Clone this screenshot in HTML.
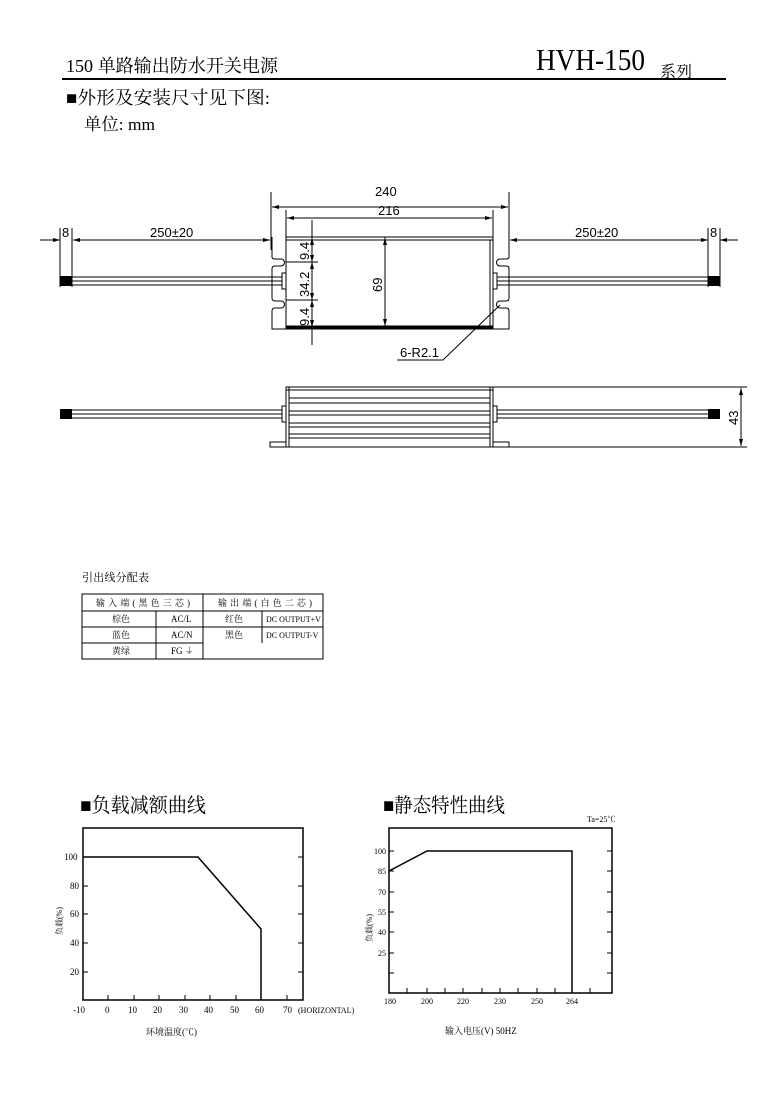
<!DOCTYPE html>
<html><head><meta charset="utf-8"><style>
html,body{margin:0;padding:0;background:#fff;}
svg{display:block}
text{font-family:"Liberation Serif","Noto Serif CJK SC","Noto Sans CJK SC",serif;fill:#000}
.s{font-family:"Liberation Sans","Noto Sans CJK SC",sans-serif}
</style></head><body>
<svg width="778" height="1101" viewBox="0 0 778 1101" xmlns="http://www.w3.org/2000/svg">
<!-- header -->
<text x="66" y="72" font-size="18" textLength="212" lengthAdjust="spacingAndGlyphs">150 单路输出防水开关电源</text>
<text x="536" y="70" font-size="31" textLength="109" lengthAdjust="spacingAndGlyphs">HVH-150</text>
<text x="660" y="77" font-size="16">系列</text>
<line x1="62" y1="79" x2="726" y2="79" stroke="#000" stroke-width="2"/>
<text x="66" y="104" font-size="18" textLength="204" lengthAdjust="spacingAndGlyphs">■外形及安装尺寸见下图:</text>
<text x="84" y="130" font-size="17" textLength="71" lengthAdjust="spacingAndGlyphs">单位: mm</text>

<g stroke="#000" fill="none" stroke-width="1">
<path d="M272 237 V257 Q272 259 275 259 H281 A3 3 0 0 1 281 266 H275 Q272 266 272 269 V298 Q272 301 275 301 H281 A3 3 0 0 1 281 308 H275 Q272 308 272 311 V329 H286"/>
<path d="M509 237 V257 Q509 259 506 259 H500 A3 3 0 0 0 500 266 H506 Q509 266 509 269 V298 Q509 301 506 301 H500 A3 3 0 0 0 500 308 H506 Q509 308 509 311 V329 H493"/>
<rect x="286" y="237" width="207" height="92"/>
<line x1="286" y1="240" x2="493" y2="240"/>
<line x1="286" y1="327" x2="493" y2="327" stroke-width="3"/>
<line x1="490" y1="240" x2="490" y2="327"/>
<rect x="282" y="273" width="4" height="16"/>
<rect x="493" y="273" width="4" height="16"/>
<line x1="60" y1="277" x2="282" y2="277"/><line x1="60" y1="281" x2="282" y2="281"/><line x1="60" y1="285" x2="282" y2="285"/>
<line x1="497" y1="277" x2="720" y2="277"/><line x1="497" y1="281" x2="720" y2="281"/><line x1="497" y1="285" x2="720" y2="285"/>
<line x1="271" y1="192" x2="271" y2="250"/><line x1="509" y1="192" x2="509" y2="250"/>
<line x1="286" y1="210" x2="286" y2="237"/><line x1="493" y1="210" x2="493" y2="237"/>
<line x1="272" y1="207" x2="508" y2="207"/>
<line x1="287" y1="218" x2="492" y2="218"/>
<line x1="40" y1="240" x2="60" y2="240"/><line x1="73" y1="240" x2="270" y2="240"/>
<line x1="510" y1="240" x2="708" y2="240"/><line x1="720" y1="240" x2="738" y2="240"/>
<line x1="60" y1="228" x2="60" y2="287"/><line x1="72" y1="228" x2="72" y2="287"/>
<line x1="708" y1="228" x2="708" y2="287"/><line x1="720" y1="228" x2="720" y2="287"/>
<line x1="312" y1="220" x2="312" y2="345"/>
<line x1="286" y1="262" x2="318" y2="262"/><line x1="286" y1="300" x2="318" y2="300"/>
<line x1="385" y1="237" x2="385" y2="327"/>
<path d="M500 305 L443 360 H397"/>
<rect x="286" y="387" width="207" height="60"/>
<line x1="289" y1="387" x2="289" y2="447"/><line x1="490" y1="387" x2="490" y2="447"/>
<line x1="286" y1="390" x2="493" y2="390"/>
<line x1="289" y1="398" x2="490" y2="398"/><line x1="289" y1="403" x2="490" y2="403"/>
<line x1="289" y1="411" x2="490" y2="411"/><line x1="289" y1="415" x2="490" y2="415"/>
<line x1="289" y1="423" x2="490" y2="423"/><line x1="289" y1="427" x2="490" y2="427"/>
<line x1="289" y1="434" x2="490" y2="434"/><line x1="289" y1="438" x2="490" y2="438"/>
<rect x="270" y="442" width="16" height="5"/><rect x="493" y="442" width="16" height="5"/>
<rect x="282" y="406" width="4" height="16"/><rect x="493" y="406" width="4" height="16"/>
<line x1="60" y1="410" x2="282" y2="410"/><line x1="60" y1="414" x2="282" y2="414"/><line x1="60" y1="418" x2="282" y2="418"/>
<line x1="497" y1="410" x2="720" y2="410"/><line x1="497" y1="414" x2="720" y2="414"/><line x1="497" y1="418" x2="720" y2="418"/>
<line x1="493" y1="387" x2="747" y2="387"/><line x1="509" y1="447" x2="747" y2="447"/>
<line x1="741" y1="388" x2="741" y2="446"/>
</g>
<g fill="#000">
<rect x="60" y="276" width="12" height="10"/><rect x="708" y="276" width="12" height="10"/>
<rect x="60" y="409" width="12" height="10"/><rect x="708" y="409" width="12" height="10"/>
<path d="M272 207 l7 -2 v4z"/><path d="M508 207 l-7 -2 v4z"/>
<path d="M287 218 l7 -2 v4z"/><path d="M492 218 l-7 -2 v4z"/>
<path d="M60 240 l-7 -2 v4z"/><path d="M73 240 l7 -2 v4z"/><path d="M270 240 l-7 -2 v4z"/>
<path d="M510 240 l7 -2 v4z"/><path d="M708 240 l-7 -2 v4z"/><path d="M720 240 l7 -2 v4z"/>
<path d="M385 238 l-2 7 h4z"/><path d="M385 326 l-2 -7 h4z"/>
<path d="M312 238 l-2 7 h4z"/><path d="M312 262 l-2 -7 h4z"/><path d="M312 262 l-2 7 h4z"/><path d="M312 300 l-2 -7 h4z"/><path d="M312 300 l-2 7 h4z"/><path d="M312 327 l-2 -7 h4z"/>
<path d="M741 388 l-2 7 h4z"/><path d="M741 446 l-2 -7 h4z"/>
</g>
<g class="s" font-size="13">
<text class="s" x="375" y="196">240</text>
<text class="s" x="378" y="215">216</text>
<text class="s" x="150" y="237">250±20</text>
<text class="s" x="575" y="237">250±20</text>
<text class="s" x="62" y="237">8</text>
<text class="s" x="710" y="237">8</text>
<text class="s" x="400" y="357">6-R2.1</text>
<text class="s" transform="translate(309 260) rotate(-90)">9.4</text>
<text class="s" transform="translate(309 297) rotate(-90)">34.2</text>
<text class="s" transform="translate(309 326) rotate(-90)">9.4</text>
<text class="s" transform="translate(382 292) rotate(-90)">69</text>
<text class="s" transform="translate(738 425) rotate(-90)">43</text>
</g>

<text x="82" y="581" font-size="11" textLength="67">引出线分配表</text>
<g stroke="#000" fill="none" stroke-width="1">
<rect x="82" y="594" width="241" height="65"/>
<line x1="82" y1="611" x2="323" y2="611"/>
<line x1="82" y1="627" x2="323" y2="627"/>
<line x1="82" y1="643" x2="203" y2="643"/>
<line x1="203" y1="594" x2="203" y2="659"/>
<line x1="156" y1="611" x2="156" y2="659"/>
<line x1="262" y1="611" x2="262" y2="643"/>
</g>
<g font-size="9">
<text x="96" y="606" textLength="94">输入端(黑色三芯)</text>
<text x="218" y="606" textLength="94">输出端(白色二芯)</text>
<text x="112" y="622">棕色</text><text x="171" y="622">AC/L</text><text x="225" y="622">红色</text><text x="266" y="622" font-size="8">DC OUTPUT+V</text>
<text x="112" y="638">蓝色</text><text x="171" y="638">AC/N</text><text x="225" y="638">黑色</text><text x="266" y="638" font-size="8">DC OUTPUT-V</text>
<text x="112" y="654">黄绿</text><text x="171" y="654">FG ⏚</text>
</g>

<text x="80" y="812" font-size="20" textLength="126" lengthAdjust="spacingAndGlyphs">■负载减额曲线</text>
<g stroke="#000" fill="none">
<rect x="83" y="828" width="220" height="172" stroke-width="1.5"/>
<path d="M83 857 H198 L261 929 V1000" stroke-width="1.5"/>
<path d="M83 857 h5 M83 886 h5 M83 914 h5 M83 943 h5 M83 972 h5 M303 857 h-5 M303 886 h-5 M303 914 h-5 M303 943 h-5 M303 972 h-5 M108 1000 v-5 M134 1000 v-5 M159 1000 v-5 M185 1000 v-5 M210 1000 v-5 M236 1000 v-5 M261 1000 v-5 M287 1000 v-5"/>
</g>
<g font-size="9">
<text x="64" y="860">100</text><text x="70" y="889">80</text><text x="70" y="917">60</text><text x="70" y="946">40</text><text x="70" y="975">20</text>
<text x="73" y="1013">-10</text><text x="105" y="1013">0</text><text x="128" y="1013">10</text><text x="153" y="1013">20</text><text x="179" y="1013">30</text><text x="204" y="1013">40</text><text x="230" y="1013">50</text><text x="255" y="1013">60</text><text x="283" y="1013">70</text><text x="298" y="1013" font-size="8">(HORIZONTAL)</text>
<text x="146" y="1035">环境温度(℃)</text>
<text transform="translate(62 935) rotate(-90)" font-size="8">负载(%)</text>
</g>

<text x="383" y="812" font-size="20" textLength="122" lengthAdjust="spacingAndGlyphs">■静态特性曲线</text>
<text x="587" y="822" font-size="8">Ta=25℃</text>
<g stroke="#000" fill="none">
<rect x="389" y="828" width="223" height="165" stroke-width="1.5"/>
<path d="M389 871 L427 851 H572 V993" stroke-width="1.5"/>
<path d="M389 851 h5 M389 871 h5 M389 892 h5 M389 912 h5 M389 932 h5 M389 953 h5 M389 973 h5 M612 851 h-5 M612 871 h-5 M612 892 h-5 M612 912 h-5 M612 932 h-5 M612 953 h-5 M612 973 h-5 M407 993 v-5 M427 993 v-5 M445 993 v-5 M463 993 v-5 M482 993 v-5 M500 993 v-5 M518 993 v-5 M537 993 v-5 M555 993 v-5 M590 993 v-5"/>
</g>
<g font-size="8">
<text x="374" y="854">100</text><text x="378" y="874">85</text><text x="378" y="895">70</text><text x="378" y="915">55</text><text x="378" y="935">40</text><text x="378" y="956">25</text>
<text x="384" y="1004">180</text><text x="421" y="1004">200</text><text x="457" y="1004">220</text><text x="494" y="1004">230</text><text x="531" y="1004">250</text><text x="566" y="1004">264</text>
<text x="445" y="1034" font-size="9">输入电压(V) 50HZ</text>
<text transform="translate(372 942) rotate(-90)">负载(%)</text>
</g>
</svg>
</body></html>
